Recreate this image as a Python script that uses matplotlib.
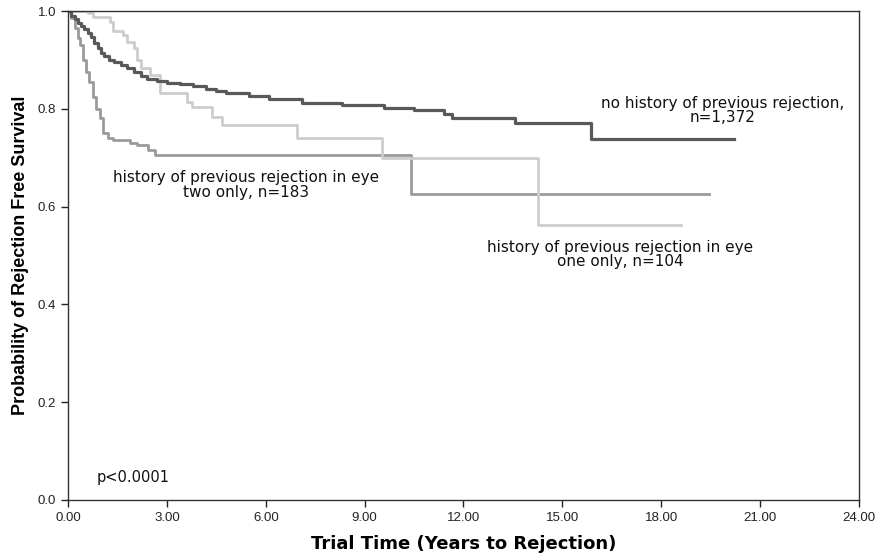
import matplotlib.pyplot as plt

# Kaplan-Meier step data
# no history of previous rejection, n=1,372
t_none = [0, 0.1, 0.2, 0.3, 0.4, 0.5, 0.6, 0.7, 0.8, 0.9, 1.0, 1.1, 1.25, 1.4, 1.6,
          1.8, 2.0, 2.2, 2.4, 2.7, 3.0, 3.4, 3.8, 4.2, 4.5, 4.8, 5.5, 6.1, 7.1, 8.3,
          9.6, 10.5, 11.4, 11.65, 13.56, 15.87, 20.2]
s_none = [1.0, 0.99, 0.983, 0.976, 0.97, 0.963, 0.955, 0.947, 0.935, 0.925, 0.915,
          0.907, 0.9, 0.895, 0.89, 0.884, 0.876, 0.867, 0.86, 0.856, 0.853, 0.85,
          0.846, 0.84, 0.836, 0.832, 0.826, 0.82, 0.812, 0.807, 0.802, 0.797, 0.789,
          0.781, 0.771, 0.738, 0.738]

# history of previous rejection in eye one only, n=104
t_one = [0, 0.6, 0.76, 1.27, 1.37, 1.67, 1.8, 2.0, 2.1, 2.2, 2.5, 2.8, 3.6, 3.75,
         4.37, 4.67, 6.95, 9.53, 14.26, 18.6]
s_one = [1.0, 0.996, 0.988, 0.977, 0.96, 0.95, 0.937, 0.924, 0.9, 0.883, 0.869,
         0.832, 0.814, 0.804, 0.783, 0.767, 0.74, 0.70, 0.562, 0.562]

# history of previous rejection in eye two only, n=183
t_two = [0, 0.1, 0.2, 0.3, 0.36, 0.45, 0.55, 0.65, 0.75, 0.85, 0.97, 1.06, 1.2,
         1.37, 1.88, 2.1, 2.43, 2.64, 10.4, 19.45]
s_two = [1.0, 0.985, 0.965, 0.945, 0.93, 0.9, 0.875, 0.855, 0.825, 0.8, 0.781,
         0.75, 0.74, 0.736, 0.73, 0.725, 0.716, 0.705, 0.626, 0.626]

x_ticks = [0, 3, 6, 9, 12, 15, 18, 21, 24]
y_ticks = [0.0, 0.2, 0.4, 0.6, 0.8, 1.0]

plt.rcParams['font.family'] = ['Liberation Sans', 'DejaVu Sans']

fig = plt.figure(figsize=(8.86, 5.56), dpi=100)
ax = fig.add_axes([68 / 886, 1 - 500 / 556, (859 - 68) / 886, (500 - 11) / 556])

ax.plot(t_two, s_two, drawstyle='steps-post', color='#9a9a9a', lw=2.0)
ax.plot(t_one, s_one, drawstyle='steps-post', color='#cdcdcd', lw=2.0)
ax.plot(t_none, s_none, drawstyle='steps-post', color='#595959', lw=2.3)

ax.set_xlim(0, 24)
ax.set_ylim(0, 1.0)
ax.set_xticks(x_ticks)
ax.set_xticklabels(['%.2f' % v for v in x_ticks])
ax.set_yticks(y_ticks)
ax.set_yticklabels(['%.1f' % v for v in y_ticks])
ax.tick_params(direction='out', length=5, width=1, labelsize=9.5, colors='#222222')
for s in ax.spines.values():
    s.set_color('#333333')
    s.set_linewidth(1.0)

ax.set_xlabel('Trial Time (Years to Rejection)', fontsize=13, fontweight='bold',
              family='DejaVu Sans', labelpad=8)
ax.set_ylabel('Probability of Rejection Free Survival', fontsize=13, fontweight='bold',
              labelpad=6)

note = dict(fontsize=11, family='DejaVu Sans', ha='center', va='center',
            multialignment='center', linespacing=0.95, color='#111111')
ax.text(19.87, 0.797, 'no history of previous rejection,\nn=1,372', **note)
ax.text(5.4, 0.644, 'history of previous rejection in eye\ntwo only, n=183', **note)
ax.text(16.75, 0.502, 'history of previous rejection in eye\none only, n=104', **note)
ax.text(0.88, 0.047, 'p<0.0001', fontsize=10.5, family='DejaVu Sans', ha='left',
        va='center', color='#111111')

fig.savefig('out.png', dpi=100)
